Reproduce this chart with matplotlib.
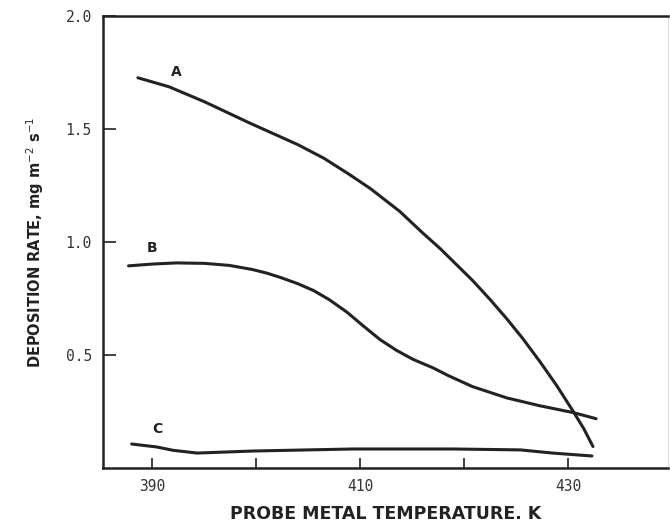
import numpy as np
import matplotlib
matplotlib.use("Agg")
import matplotlib.pyplot as plt

# curve A
a_x = [388.6, 391.6, 395.0, 399.3, 404.0, 406.5, 408.9, 411.0, 413.8, 416.0, 417.7, 420.8,
       422.5, 424.1, 425.6, 427.3, 428.9, 430.5, 431.5, 432.4]
a_y = [1.726, 1.686, 1.62, 1.527, 1.43, 1.37, 1.30, 1.235, 1.135, 1.04, 0.97, 0.83,
       0.745, 0.66, 0.575, 0.47, 0.365, 0.25, 0.175, 0.095]

# curve B
b_x = [387.7, 390.0, 392.3, 395.0, 397.4, 399.6, 401.0, 402.3, 404.0, 405.5, 407.0, 408.7,
       410.3, 411.9, 413.5, 415.1, 417.0, 418.5, 420.8, 424.1, 427.3, 430.5, 432.7]
b_y = [0.894, 0.902, 0.907, 0.905, 0.896, 0.878, 0.862, 0.843, 0.815, 0.785, 0.745, 0.69,
       0.628, 0.568, 0.52, 0.48, 0.443, 0.408, 0.36, 0.31, 0.275, 0.245, 0.218]

# curve C
c_x = [388.0, 390.4, 392.0, 394.3, 399.7, 409.3, 418.9, 425.4, 428.5, 432.3]
c_y = [0.106, 0.093, 0.078, 0.066, 0.075, 0.084, 0.084, 0.080, 0.066, 0.053]

curve_labels = ["A", "B", "C"]
label_pos = [(392.3, 1.72), (390.0, 0.94), (390.5, 0.14)]

x_ticks = [390, 400, 410, 420, 430]
x_ticklabels = ["390", "", "410", "", "430"]
y_ticks = [0.5, 1.0, 1.5, 2.0]
y_ticklabels = ["0.5", "1.0", "1.5", "2.0"]

ink = "#222222"

fig = plt.figure(figsize=(6.7, 5.27), dpi=100)
ax = fig.add_axes([0.1537, 0.112, 0.843, 0.858])

for xs, ys in [(a_x, a_y), (b_x, b_y), (c_x, c_y)]:
    ax.plot(xs, ys, color=ink, lw=2.2, solid_capstyle="round", solid_joinstyle="round")

for lab, (lx, ly) in zip(curve_labels, label_pos):
    ax.text(lx, ly, lab, fontsize=10, fontweight="bold", color=ink,
            ha="center", va="bottom")

ax.set_xlim(385.24, 439.6)
ax.set_ylim(0, 2.0)

ax.set_xticks(x_ticks)
ax.set_xticklabels(x_ticklabels, family="DejaVu Sans Mono", fontsize=10.5, color="#333333")
ax.set_yticks(y_ticks)
ax.set_yticklabels(y_ticklabels, family="DejaVu Sans Mono", fontsize=10.5, color="#333333")
ax.tick_params(axis="both", direction="in", width=1.2, color=ink)
ax.tick_params(axis="x", length=7, pad=8)
ax.tick_params(axis="y", length=9, pad=8)

for side in ["left", "bottom", "top"]:
    ax.spines[side].set_linewidth(1.8)
    ax.spines[side].set_color(ink)
ax.spines["right"].set_linewidth(0.8)
ax.spines["right"].set_color("#dddddd")

ax.set_xlabel("PROBE METAL TEMPERATURE. K", fontsize=12.5, fontweight="bold",
              color=ink, labelpad=8)
ax.set_ylabel(r"DEPOSITION RATE, mg m$^{-2}$ s$^{-1}$", fontsize=10.5,
              fontweight="bold", color=ink, labelpad=14)

fig.savefig("out.png", dpi=100)
